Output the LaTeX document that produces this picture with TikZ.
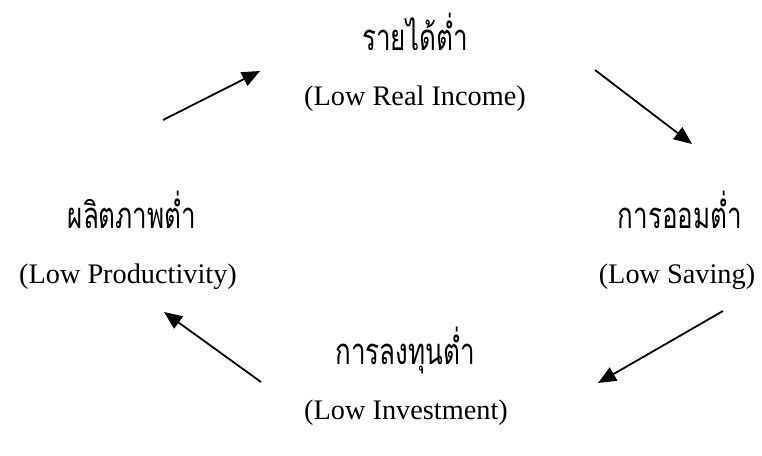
\documentclass[tikz,border=0pt]{standalone}
\usepackage{fontspec}
\setmainfont{Liberation Serif}
\newfontfamily\thaifont[Script=Thai]{Loma}
\usetikzlibrary{arrows.meta}
\newcommand{\tallthai}[1]{\scalebox{1}[1.4]{#1}}
\begin{document}
\begin{tikzpicture}[x=1pt,y=-1pt,
  thai/.style={inner sep=0pt,anchor=base,font=\thaifont\fontsize{26}{30}\selectfont},
  eng/.style={inner sep=0pt,font=\fontsize{28.3}{32}\selectfont},
  arr/.style={line width=1.8pt,-{Triangle[length=18pt,width=15pt]}}]
\useasboundingbox (0,0) rectangle (762,455);
\node[thai] (t1) at (415,50) {\tallthai{รายได้ต่ำ}};
\node[eng] (e1) at (415,99) {(Low Real Income)};
\node[thai] (t2) at (680,228) {\tallthai{การออมต่ำ}};
\node[eng] (e2) at (677,277) {(Low Saving)};
\node[thai] (t3) at (405,364) {\tallthai{การลงทุนต่ำ}};
\node[eng] (e3) at (406,413) {(Low Investment)};
\node[thai] (t4) at (132,228) {\tallthai{ผลิตภาพต่ำ}};
\node[eng] (e4) at (128,277) {(Low Productivity)};
\coordinate (a1s) at (163,120);
\coordinate (a1e) at (260,71);
\coordinate (a2s) at (595,70);
\coordinate (a2e) at (692,144);
\coordinate (a3s) at (723,311);
\coordinate (a3e) at (598,383);
\coordinate (a4s) at (261,382);
\coordinate (a4e) at (164,312);
\draw[arr] (a1s) -- (a1e);
\draw[arr] (a2s) -- (a2e);
\draw[arr] (a3s) -- (a3e);
\draw[arr] (a4s) -- (a4e);
\end{tikzpicture}
\end{document}
